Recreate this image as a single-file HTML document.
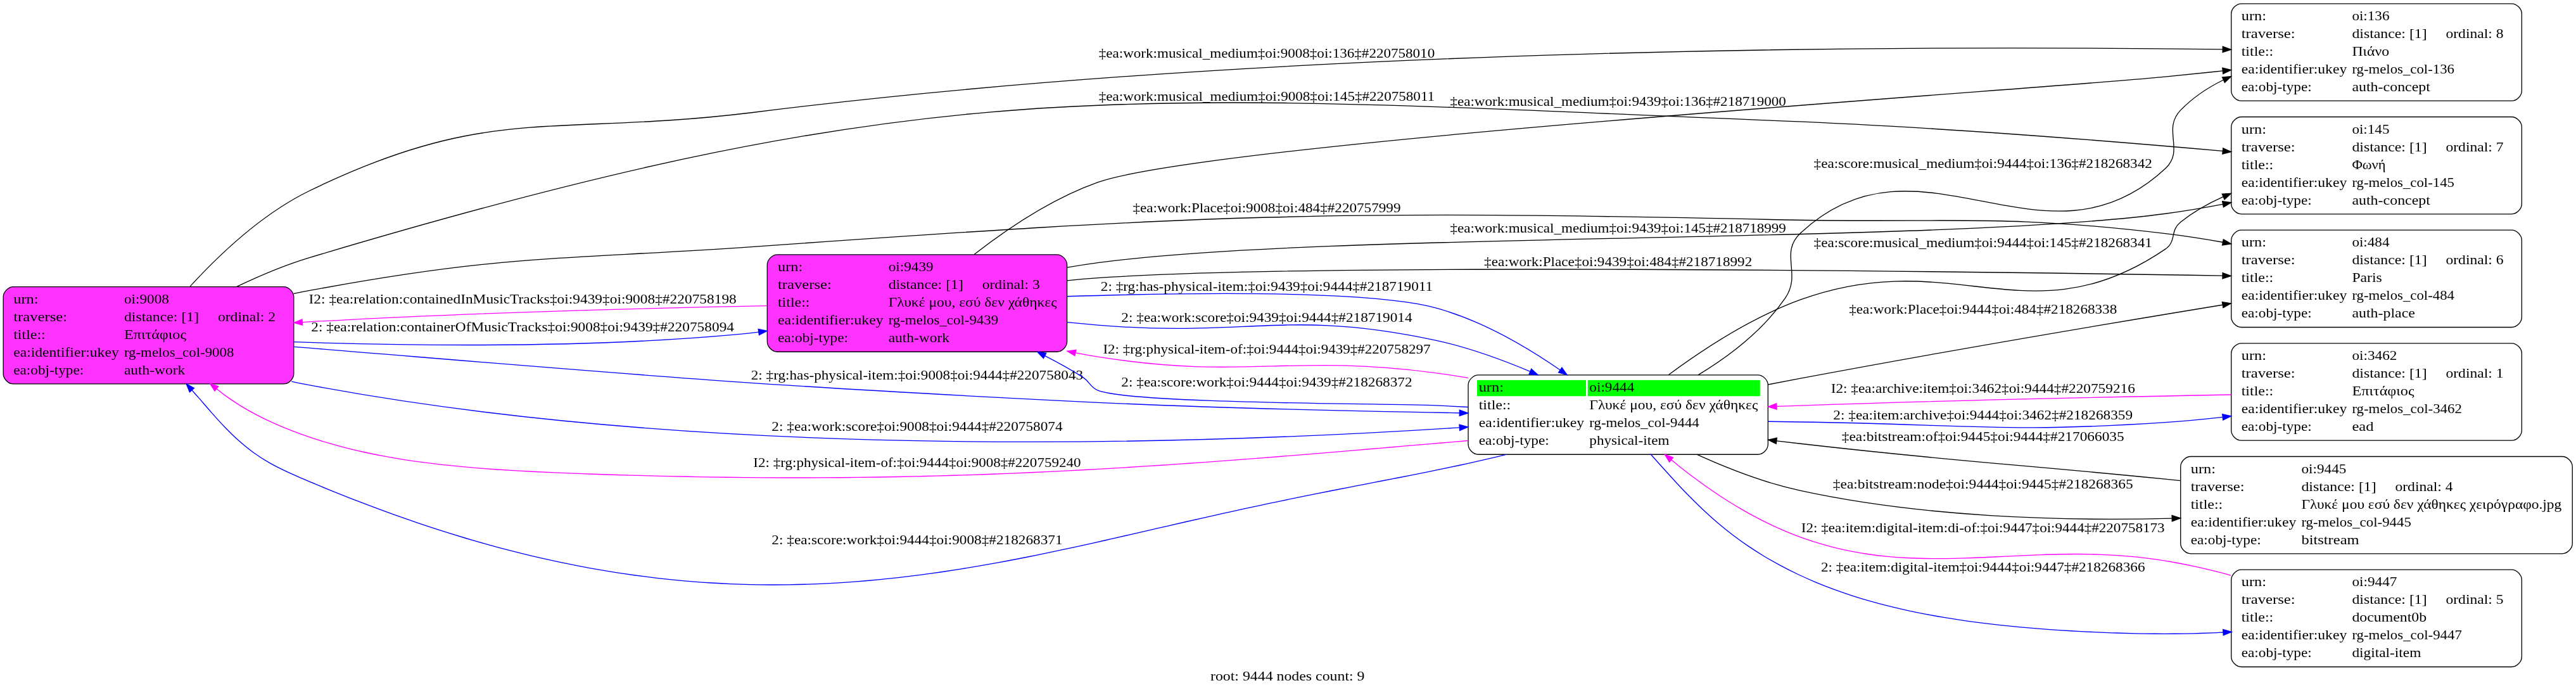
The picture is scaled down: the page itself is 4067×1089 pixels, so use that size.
<!DOCTYPE html>
<html><head><meta charset="utf-8"><title>graph</title>
<style>html,body{margin:0;padding:0;background:#fff;} svg{display:block;will-change:transform;} text{font-family:"Liberation Serif",serif;}</style>
</head><body>
<svg width="4067" height="1089" viewBox="0 0 4067 1089">
<rect x="0" y="0" width="4067" height="1089" fill="#ffffff"/>
<g font-family="Liberation Serif, serif" font-size="20.9" fill="#000">
<path fill="#ff33ff" stroke="#000" stroke-width="1.33" d="M447.86,452.60C447.86,452.60 21.14,452.60 21.14,452.60 13.18,452.60 5.23,460.60 5.23,468.60 5.23,468.60 5.23,589.93 5.23,589.93 5.23,597.93 13.18,605.93 21.14,605.93 21.14,605.93 447.86,605.93 447.86,605.93 455.82,605.93 463.77,597.93 463.77,589.93 463.77,589.93 463.77,468.60 463.77,468.60 463.77,460.60 455.82,452.60 447.86,452.60"/>
<text x="21.23" y="478.87" textLength="39.25" lengthAdjust="spacingAndGlyphs">urn:</text>
<text x="195.90" y="478.87" textLength="70.97" lengthAdjust="spacingAndGlyphs">oi:9008</text>
<text x="21.23" y="506.87" textLength="84.94" lengthAdjust="spacingAndGlyphs">traverse:</text>
<text x="195.90" y="506.87" textLength="118.27" lengthAdjust="spacingAndGlyphs">distance: [1]</text>
<text x="343.90" y="506.87" textLength="91.25" lengthAdjust="spacingAndGlyphs">ordinal: 2</text>
<text x="21.23" y="534.87" textLength="50.55" lengthAdjust="spacingAndGlyphs">title::</text>
<text x="195.90" y="534.87" textLength="98.19" lengthAdjust="spacingAndGlyphs">Επιτάφιος</text>
<text x="21.23" y="562.87" textLength="166.47" lengthAdjust="spacingAndGlyphs">ea:identifier:ukey</text>
<text x="195.90" y="562.87" textLength="173.44" lengthAdjust="spacingAndGlyphs">rg-melos_col-9008</text>
<text x="21.23" y="590.87" textLength="111.03" lengthAdjust="spacingAndGlyphs">ea:obj-type:</text>
<text x="195.90" y="590.87" textLength="96.39" lengthAdjust="spacingAndGlyphs">auth-work</text>
<path fill="none" stroke="#000" stroke-width="1.33" d="M3965.46,5.83C3965.46,5.83 3538.64,5.83 3538.64,5.83 3530.69,5.83 3522.73,13.83 3522.73,21.83 3522.73,21.83 3522.73,143.17 3522.73,143.17 3522.73,151.17 3530.69,159.17 3538.64,159.17 3538.64,159.17 3965.46,159.17 3965.46,159.17 3973.41,159.17 3981.37,151.17 3981.37,143.17 3981.37,143.17 3981.37,21.83 3981.37,21.83 3981.37,13.83 3973.41,5.83 3965.46,5.83"/>
<text x="3538.73" y="32.10" textLength="39.25" lengthAdjust="spacingAndGlyphs">urn:</text>
<text x="3713.40" y="32.10" textLength="59.09" lengthAdjust="spacingAndGlyphs">oi:136</text>
<text x="3538.73" y="60.10" textLength="84.94" lengthAdjust="spacingAndGlyphs">traverse:</text>
<text x="3713.40" y="60.10" textLength="118.27" lengthAdjust="spacingAndGlyphs">distance: [1]</text>
<text x="3861.40" y="60.10" textLength="91.25" lengthAdjust="spacingAndGlyphs">ordinal: 8</text>
<text x="3538.73" y="88.10" textLength="50.55" lengthAdjust="spacingAndGlyphs">title::</text>
<text x="3713.40" y="88.10" textLength="58.77" lengthAdjust="spacingAndGlyphs">Πιάνο</text>
<text x="3538.73" y="116.10" textLength="166.47" lengthAdjust="spacingAndGlyphs">ea:identifier:ukey</text>
<text x="3713.40" y="116.10" textLength="161.56" lengthAdjust="spacingAndGlyphs">rg-melos_col-136</text>
<text x="3538.73" y="144.10" textLength="111.03" lengthAdjust="spacingAndGlyphs">ea:obj-type:</text>
<text x="3713.40" y="144.10" textLength="123.59" lengthAdjust="spacingAndGlyphs">auth-concept</text>
<path fill="none" stroke="#000" stroke-width="1.33" d="M3965.46,184.50C3965.46,184.50 3538.64,184.50 3538.64,184.50 3530.69,184.50 3522.73,192.50 3522.73,200.50 3522.73,200.50 3522.73,321.83 3522.73,321.83 3522.73,329.83 3530.69,337.83 3538.64,337.83 3538.64,337.83 3965.46,337.83 3965.46,337.83 3973.41,337.83 3981.37,329.83 3981.37,321.83 3981.37,321.83 3981.37,200.50 3981.37,200.50 3981.37,192.50 3973.41,184.50 3965.46,184.50"/>
<text x="3538.73" y="210.77" textLength="39.25" lengthAdjust="spacingAndGlyphs">urn:</text>
<text x="3713.40" y="210.77" textLength="59.09" lengthAdjust="spacingAndGlyphs">oi:145</text>
<text x="3538.73" y="238.77" textLength="84.94" lengthAdjust="spacingAndGlyphs">traverse:</text>
<text x="3713.40" y="238.77" textLength="118.27" lengthAdjust="spacingAndGlyphs">distance: [1]</text>
<text x="3861.40" y="238.77" textLength="91.25" lengthAdjust="spacingAndGlyphs">ordinal: 7</text>
<text x="3538.73" y="266.77" textLength="50.55" lengthAdjust="spacingAndGlyphs">title::</text>
<text x="3713.40" y="266.77" textLength="53.03" lengthAdjust="spacingAndGlyphs">Φωνή</text>
<text x="3538.73" y="294.77" textLength="166.47" lengthAdjust="spacingAndGlyphs">ea:identifier:ukey</text>
<text x="3713.40" y="294.77" textLength="161.56" lengthAdjust="spacingAndGlyphs">rg-melos_col-145</text>
<text x="3538.73" y="322.77" textLength="111.03" lengthAdjust="spacingAndGlyphs">ea:obj-type:</text>
<text x="3713.40" y="322.77" textLength="123.59" lengthAdjust="spacingAndGlyphs">auth-concept</text>
<path fill="none" stroke="#000" stroke-width="1.33" d="M3965.46,363.17C3965.46,363.17 3538.64,363.17 3538.64,363.17 3530.69,363.17 3522.73,371.17 3522.73,379.17 3522.73,379.17 3522.73,500.50 3522.73,500.50 3522.73,508.50 3530.69,516.50 3538.64,516.50 3538.64,516.50 3965.46,516.50 3965.46,516.50 3973.41,516.50 3981.37,508.50 3981.37,500.50 3981.37,500.50 3981.37,379.17 3981.37,379.17 3981.37,371.17 3973.41,363.17 3965.46,363.17"/>
<text x="3538.73" y="389.43" textLength="39.25" lengthAdjust="spacingAndGlyphs">urn:</text>
<text x="3713.40" y="389.43" textLength="59.09" lengthAdjust="spacingAndGlyphs">oi:484</text>
<text x="3538.73" y="417.43" textLength="84.94" lengthAdjust="spacingAndGlyphs">traverse:</text>
<text x="3713.40" y="417.43" textLength="118.27" lengthAdjust="spacingAndGlyphs">distance: [1]</text>
<text x="3861.40" y="417.43" textLength="91.25" lengthAdjust="spacingAndGlyphs">ordinal: 6</text>
<text x="3538.73" y="445.43" textLength="50.55" lengthAdjust="spacingAndGlyphs">title::</text>
<text x="3713.40" y="445.43" textLength="47.30" lengthAdjust="spacingAndGlyphs">Paris</text>
<text x="3538.73" y="473.43" textLength="166.47" lengthAdjust="spacingAndGlyphs">ea:identifier:ukey</text>
<text x="3713.40" y="473.43" textLength="161.56" lengthAdjust="spacingAndGlyphs">rg-melos_col-484</text>
<text x="3538.73" y="501.43" textLength="111.03" lengthAdjust="spacingAndGlyphs">ea:obj-type:</text>
<text x="3713.40" y="501.43" textLength="99.48" lengthAdjust="spacingAndGlyphs">auth-place</text>
<path fill="#ff33ff" stroke="#000" stroke-width="1.33" d="M1668.66,401.90C1668.66,401.90 1227.22,401.90 1227.22,401.90 1219.27,401.90 1211.32,409.90 1211.32,417.90 1211.32,417.90 1211.32,539.23 1211.32,539.23 1211.32,547.23 1219.27,555.23 1227.22,555.23 1227.22,555.23 1668.66,555.23 1668.66,555.23 1676.61,555.23 1684.57,547.23 1684.57,539.23 1684.57,539.23 1684.57,417.90 1684.57,417.90 1684.57,409.90 1676.61,401.90 1668.66,401.90"/>
<text x="1227.98" y="428.17" textLength="39.25" lengthAdjust="spacingAndGlyphs">urn:</text>
<text x="1402.65" y="428.17" textLength="70.97" lengthAdjust="spacingAndGlyphs">oi:9439</text>
<text x="1227.98" y="456.17" textLength="84.94" lengthAdjust="spacingAndGlyphs">traverse:</text>
<text x="1402.65" y="456.17" textLength="118.27" lengthAdjust="spacingAndGlyphs">distance: [1]</text>
<text x="1550.65" y="456.17" textLength="91.25" lengthAdjust="spacingAndGlyphs">ordinal: 3</text>
<text x="1227.98" y="484.17" textLength="50.55" lengthAdjust="spacingAndGlyphs">title::</text>
<text x="1402.65" y="484.17" textLength="265.86" lengthAdjust="spacingAndGlyphs">Γλυκέ μου, εσύ δεν χάθηκες</text>
<text x="1227.98" y="512.17" textLength="166.47" lengthAdjust="spacingAndGlyphs">ea:identifier:ukey</text>
<text x="1402.65" y="512.17" textLength="173.44" lengthAdjust="spacingAndGlyphs">rg-melos_col-9439</text>
<text x="1227.98" y="540.17" textLength="111.03" lengthAdjust="spacingAndGlyphs">ea:obj-type:</text>
<text x="1402.65" y="540.17" textLength="96.39" lengthAdjust="spacingAndGlyphs">auth-work</text>
<path fill="none" stroke="#000" stroke-width="1.33" d="M2775.42,591.90C2775.42,591.90 2333.94,591.90 2333.94,591.90 2325.99,591.90 2318.03,599.90 2318.03,607.90 2318.03,607.90 2318.03,701.23 2318.03,701.23 2318.03,709.23 2325.99,717.23 2333.94,717.23 2333.94,717.23 2775.42,717.23 2775.42,717.23 2783.38,717.23 2791.33,709.23 2791.33,701.23 2791.33,701.23 2791.33,607.90 2791.33,607.90 2791.33,599.90 2783.38,591.90 2775.42,591.90"/>
<rect x="2332.03" y="599.90" width="172.00" height="25.33" fill="#00ff00"/>
<rect x="2506.70" y="599.90" width="272.04" height="25.33" fill="#00ff00"/>
<text x="2334.70" y="617.50" textLength="39.25" lengthAdjust="spacingAndGlyphs">urn:</text>
<text x="2509.37" y="617.50" textLength="70.97" lengthAdjust="spacingAndGlyphs">oi:9444</text>
<text x="2334.70" y="645.50" textLength="50.55" lengthAdjust="spacingAndGlyphs">title::</text>
<text x="2509.37" y="645.50" textLength="265.86" lengthAdjust="spacingAndGlyphs">Γλυκέ μου, εσύ δεν χάθηκες</text>
<text x="2334.70" y="673.50" textLength="166.47" lengthAdjust="spacingAndGlyphs">ea:identifier:ukey</text>
<text x="2509.37" y="673.50" textLength="173.44" lengthAdjust="spacingAndGlyphs">rg-melos_col-9444</text>
<text x="2334.70" y="701.50" textLength="111.03" lengthAdjust="spacingAndGlyphs">ea:obj-type:</text>
<text x="2509.37" y="701.50" textLength="126.08" lengthAdjust="spacingAndGlyphs">physical-item</text>
<path fill="none" stroke="#000" stroke-width="1.33" d="M3965.46,541.83C3965.46,541.83 3538.64,541.83 3538.64,541.83 3530.69,541.83 3522.73,549.83 3522.73,557.83 3522.73,557.83 3522.73,679.17 3522.73,679.17 3522.73,687.17 3530.69,695.17 3538.64,695.17 3538.64,695.17 3965.46,695.17 3965.46,695.17 3973.41,695.17 3981.37,687.17 3981.37,679.17 3981.37,679.17 3981.37,557.83 3981.37,557.83 3981.37,549.83 3973.41,541.83 3965.46,541.83"/>
<text x="3538.73" y="568.10" textLength="39.25" lengthAdjust="spacingAndGlyphs">urn:</text>
<text x="3713.40" y="568.10" textLength="70.97" lengthAdjust="spacingAndGlyphs">oi:3462</text>
<text x="3538.73" y="596.10" textLength="84.94" lengthAdjust="spacingAndGlyphs">traverse:</text>
<text x="3713.40" y="596.10" textLength="118.27" lengthAdjust="spacingAndGlyphs">distance: [1]</text>
<text x="3861.40" y="596.10" textLength="91.25" lengthAdjust="spacingAndGlyphs">ordinal: 1</text>
<text x="3538.73" y="624.10" textLength="50.55" lengthAdjust="spacingAndGlyphs">title::</text>
<text x="3713.40" y="624.10" textLength="98.19" lengthAdjust="spacingAndGlyphs">Επιτάφιος</text>
<text x="3538.73" y="652.10" textLength="166.47" lengthAdjust="spacingAndGlyphs">ea:identifier:ukey</text>
<text x="3713.40" y="652.10" textLength="173.44" lengthAdjust="spacingAndGlyphs">rg-melos_col-3462</text>
<text x="3538.73" y="680.10" textLength="111.03" lengthAdjust="spacingAndGlyphs">ea:obj-type:</text>
<text x="3713.40" y="680.10" textLength="34.11" lengthAdjust="spacingAndGlyphs">ead</text>
<path fill="none" stroke="#000" stroke-width="1.33" d="M4045.34,720.50C4045.34,720.50 3458.66,720.50 3458.66,720.50 3450.70,720.50 3442.73,728.50 3442.73,736.50 3442.73,736.50 3442.73,857.83 3442.73,857.83 3442.73,865.83 3450.70,873.83 3458.66,873.83 3458.66,873.83 4045.34,873.83 4045.34,873.83 4053.30,873.83 4061.27,865.83 4061.27,857.83 4061.27,857.83 4061.27,736.50 4061.27,736.50 4061.27,728.50 4053.30,720.50 4045.34,720.50"/>
<text x="3458.73" y="746.77" textLength="39.25" lengthAdjust="spacingAndGlyphs">urn:</text>
<text x="3633.40" y="746.77" textLength="70.97" lengthAdjust="spacingAndGlyphs">oi:9445</text>
<text x="3458.73" y="774.77" textLength="84.94" lengthAdjust="spacingAndGlyphs">traverse:</text>
<text x="3633.40" y="774.77" textLength="118.27" lengthAdjust="spacingAndGlyphs">distance: [1]</text>
<text x="3781.40" y="774.77" textLength="91.25" lengthAdjust="spacingAndGlyphs">ordinal: 4</text>
<text x="3458.73" y="802.77" textLength="50.55" lengthAdjust="spacingAndGlyphs">title::</text>
<text x="3633.40" y="802.77" textLength="410.95" lengthAdjust="spacingAndGlyphs">Γλυκέ μου εσύ δεν χάθηκες χειρόγραφο.jpg</text>
<text x="3458.73" y="830.77" textLength="166.47" lengthAdjust="spacingAndGlyphs">ea:identifier:ukey</text>
<text x="3633.40" y="830.77" textLength="173.44" lengthAdjust="spacingAndGlyphs">rg-melos_col-9445</text>
<text x="3458.73" y="858.77" textLength="111.03" lengthAdjust="spacingAndGlyphs">ea:obj-type:</text>
<text x="3633.40" y="858.77" textLength="91.25" lengthAdjust="spacingAndGlyphs">bitstream</text>
<path fill="none" stroke="#000" stroke-width="1.33" d="M3965.46,899.17C3965.46,899.17 3538.64,899.17 3538.64,899.17 3530.69,899.17 3522.73,907.17 3522.73,915.17 3522.73,915.17 3522.73,1036.50 3522.73,1036.50 3522.73,1044.50 3530.69,1052.50 3538.64,1052.50 3538.64,1052.50 3965.46,1052.50 3965.46,1052.50 3973.41,1052.50 3981.37,1044.50 3981.37,1036.50 3981.37,1036.50 3981.37,915.17 3981.37,915.17 3981.37,907.17 3973.41,899.17 3965.46,899.17"/>
<text x="3538.73" y="925.43" textLength="39.25" lengthAdjust="spacingAndGlyphs">urn:</text>
<text x="3713.40" y="925.43" textLength="70.97" lengthAdjust="spacingAndGlyphs">oi:9447</text>
<text x="3538.73" y="953.43" textLength="84.94" lengthAdjust="spacingAndGlyphs">traverse:</text>
<text x="3713.40" y="953.43" textLength="118.27" lengthAdjust="spacingAndGlyphs">distance: [1]</text>
<text x="3861.40" y="953.43" textLength="91.25" lengthAdjust="spacingAndGlyphs">ordinal: 5</text>
<text x="3538.73" y="981.43" textLength="50.55" lengthAdjust="spacingAndGlyphs">title::</text>
<text x="3713.40" y="981.43" textLength="117.70" lengthAdjust="spacingAndGlyphs">document0b</text>
<text x="3538.73" y="1009.43" textLength="166.47" lengthAdjust="spacingAndGlyphs">ea:identifier:ukey</text>
<text x="3713.40" y="1009.43" textLength="173.44" lengthAdjust="spacingAndGlyphs">rg-melos_col-9447</text>
<text x="3538.73" y="1037.43" textLength="111.03" lengthAdjust="spacingAndGlyphs">ea:obj-type:</text>
<text x="3713.40" y="1037.43" textLength="108.91" lengthAdjust="spacingAndGlyphs">digital-item</text>
<path fill="none" stroke="#000" stroke-width="1.33" d="M300.06,452.08C346.80,401.21 414.49,337.53 487.82,301.52 771.18,163.11 873.55,216.03 1186.60,177.74 2033.86,70.80 3051.32,72.12 3509.20,77.95"/>
<polygon fill="#000" stroke="#000" stroke-width="1.33" points="3509.32,73.29 3522.56,78.13 3509.15,82.62 3509.32,73.29"/>
<text x="1999.96" y="90.80" text-anchor="middle" textLength="530.45" lengthAdjust="spacingAndGlyphs">‡ea:work:musical_medium‡oi:9008‡oi:136‡#220758010</text>
<path fill="none" stroke="#000" stroke-width="1.33" d="M373.86,452.47C409.99,435.14 449.52,418.45 487.82,406.88 1483.68,108.28 1778.74,149.11 2818.73,191.09 3053.67,200.39 3321.05,221.73 3509.19,238.42"/>
<polygon fill="#000" stroke="#000" stroke-width="1.33" points="3509.76,233.79 3522.57,239.62 3508.85,243.08 3509.76,233.79"/>
<text x="1999.96" y="158.80" text-anchor="middle" textLength="530.45" lengthAdjust="spacingAndGlyphs">‡ea:work:musical_medium‡oi:9008‡oi:145‡#220758011</text>
<path fill="none" stroke="#000" stroke-width="1.33" d="M463.93,463.40C471.97,461.71 479.95,460.12 487.82,458.66 794.56,401.66 875.21,410.86 1186.60,389.59 1909.88,338.24 2093.74,330.97 2818.73,347.03 3085.54,352.45 3153.95,337.33 3418.68,368.62 3448.15,372.10 3478.81,376.87 3509.12,382.27"/>
<polygon fill="#000" stroke="#000" stroke-width="1.33" points="3510.32,377.75 3522.55,384.83 3508.57,386.93 3510.32,377.75"/>
<text x="1999.96" y="334.80" text-anchor="middle" textLength="423.12" lengthAdjust="spacingAndGlyphs">‡ea:work:Place‡oi:9008‡oi:484‡#220757999</text>
<path fill="none" stroke="#0000ff" stroke-width="1.33" d="M463.99,539.69C652.28,545.92 925.27,549.55 1162.55,527.89 1174.07,526.84 1185.82,525.55 1197.66,524.05"/>
<polygon fill="#0000ff" stroke="#0000ff" stroke-width="1.33" points="1197.19,519.40 1211.06,522.29 1198.46,528.66 1197.19,519.40"/>
<text x="825.18" y="523.00" text-anchor="middle" textLength="667.66" lengthAdjust="spacingAndGlyphs">2: ‡ea:relation:containerOfMusicTracks‡oi:9008‡oi:9439‡#220758094</text>
<path fill="none" stroke="#0000ff" stroke-width="1.33" d="M463.97,547.33C472.01,547.99 479.99,548.61 487.82,549.20 1042.37,594.51 1181.15,608.16 1733.45,635.31 1924.75,644.11 2141.28,649.03 2304.11,651.74"/>
<polygon fill="#0000ff" stroke="#0000ff" stroke-width="1.33" points="2304.40,647.07 2317.71,651.95 2304.25,656.41 2304.40,647.07"/>
<text x="1447.94" y="599.00" text-anchor="middle" textLength="524.31" lengthAdjust="spacingAndGlyphs">2: ‡rg:has-physical-item:‡oi:9008‡oi:9444‡#220758043</text>
<path fill="none" stroke="#0000ff" stroke-width="1.33" d="M460.24,602.07C469.49,604.15 478.72,606.02 487.82,607.67 1133.36,729.30 1910.46,700.28 2303.84,674.82"/>
<polygon fill="#0000ff" stroke="#0000ff" stroke-width="1.33" points="2303.97,670.15 2317.67,673.93 2304.64,679.46 2303.97,670.15"/>
<text x="1447.94" y="680.00" text-anchor="middle" textLength="459.16" lengthAdjust="spacingAndGlyphs">2: ‡ea:work:score‡oi:9008‡oi:9444‡#220758074</text>
<path fill="none" stroke="#ff00ff" stroke-width="1.33" d="M3522.51,623.02C3338.68,626.40 3074.13,632.05 2842.78,640.05 2830.40,640.48 2817.74,640.95 2804.95,641.45"/>
<polygon fill="#ff00ff" stroke="#ff00ff" stroke-width="1.33" points="2805.12,646.11 2791.57,642.03 2804.72,636.79 2805.12,646.11"/>
<text x="3130.73" y="619.60" text-anchor="middle" textLength="480.14" lengthAdjust="spacingAndGlyphs">I2: ‡ea:archive:item‡oi:3462‡oi:9444‡#220759216</text>
<path fill="none" stroke="#000" stroke-width="1.33" d="M3442.47,758.59C3434.46,757.78 3426.53,756.98 3418.68,756.20 3162.97,730.66 3098.41,729.54 2842.78,700.22 2830.39,698.79 2817.72,697.31 2804.92,695.80"/>
<polygon fill="#000" stroke="#000" stroke-width="1.33" points="2804.23,700.41 2791.55,694.19 2805.38,691.14 2804.23,700.41"/>
<text x="3130.73" y="696.20" text-anchor="middle" textLength="445.83" lengthAdjust="spacingAndGlyphs">‡ea:bitstream:of‡oi:9445‡oi:9444‡#217066035</text>
<path fill="none" stroke="#ff00ff" stroke-width="1.33" d="M1210.96,482.71C1016.45,486.44 734.15,493.89 487.82,507.94 484.38,508.14 480.94,508.34 477.46,508.55"/>
<polygon fill="#ff00ff" stroke="#ff00ff" stroke-width="1.33" points="477.60,513.21 463.95,509.41 476.99,503.91 477.60,513.21"/>
<text x="825.18" y="478.80" text-anchor="middle" textLength="675.23" lengthAdjust="spacingAndGlyphs">I2: ‡ea:relation:containedInMusicTracks‡oi:9439‡oi:9008‡#220758198</text>
<path fill="none" stroke="#000" stroke-width="1.33" d="M1538.12,401.51C1591.10,360.40 1661.75,313.08 1733.45,287.68 1911.14,224.93 3231.21,140.15 3418.68,121.14 3447.97,118.17 3478.67,115.02 3509.08,111.88"/>
<polygon fill="#000" stroke="#000" stroke-width="1.33" points="3508.81,107.22 3522.56,110.50 3509.77,116.51 3508.81,107.22"/>
<text x="2554.68" y="166.50" text-anchor="middle" textLength="530.45" lengthAdjust="spacingAndGlyphs">‡ea:work:musical_medium‡oi:9439‡oi:136‡#218719000</text>
<path fill="none" stroke="#000" stroke-width="1.33" d="M1684.77,422.14C1701.19,419.27 1717.53,416.71 1733.45,414.60 2106.39,364.95 3046.58,386.18 3418.68,337.22 3448.17,333.36 3478.85,328.20 3509.16,322.39"/>
<polygon fill="#000" stroke="#000" stroke-width="1.33" points="3508.60,317.73 3522.59,319.76 3510.41,326.90 3508.60,317.73"/>
<text x="2554.68" y="367.00" text-anchor="middle" textLength="530.45" lengthAdjust="spacingAndGlyphs">‡ea:work:musical_medium‡oi:9439‡oi:145‡#218718999</text>
<path fill="none" stroke="#000" stroke-width="1.33" d="M1684.69,442.81C1701.16,441.12 1717.54,439.69 1733.45,438.60 2072.59,415.13 3049.27,427.53 3508.95,435.19"/>
<polygon fill="#000" stroke="#000" stroke-width="1.33" points="3509.12,430.53 3522.36,435.43 3508.95,439.86 3509.12,430.53"/>
<text x="2554.68" y="420.40" text-anchor="middle" textLength="423.12" lengthAdjust="spacingAndGlyphs">‡ea:work:Place‡oi:9439‡oi:484‡#218718992</text>
<path fill="none" stroke="#0000ff" stroke-width="1.33" d="M1684.74,467.77C1887.13,461.51 2161.22,457.59 2266.47,485.89 2338.05,505.20 2409.47,546.99 2463.22,584.02"/>
<polygon fill="#0000ff" stroke="#0000ff" stroke-width="1.33" points="2465.91,580.22 2474.06,591.71 2460.55,587.87 2465.91,580.22"/>
<text x="1999.96" y="458.70" text-anchor="middle" textLength="524.31" lengthAdjust="spacingAndGlyphs">2: ‡rg:has-physical-item:‡oi:9439‡oi:9444‡#218719011</text>
<path fill="none" stroke="#0000ff" stroke-width="1.33" d="M1684.82,508.65C1701.27,510.29 1717.59,511.80 1733.45,513.12 1969.77,532.77 2035.02,487.25 2266.47,537.08 2317.07,547.98 2369.65,566.93 2415.86,586.42"/>
<polygon fill="#0000ff" stroke="#0000ff" stroke-width="1.33" points="2417.77,582.17 2428.09,591.75 2414.07,590.75 2417.77,582.17"/>
<text x="1999.96" y="508.30" text-anchor="middle" textLength="459.16" lengthAdjust="spacingAndGlyphs">2: ‡ea:work:score‡oi:9439‡oi:9444‡#218719014</text>
<path fill="none" stroke="#ff00ff" stroke-width="1.33" d="M3522.10,908.02C3517.21,906.76 3502.58,902.86 3492.78,900.47 3482.97,898.07 3473.14,895.78 3463.27,893.66 3453.40,891.54 3443.50,889.56 3433.57,887.77 3423.64,885.98 3413.67,884.35 3403.68,882.92 3393.69,881.49 3383.67,880.24 3373.63,879.18 3363.59,878.12 3353.53,877.26 3343.46,876.57 3333.39,875.89 3323.31,875.40 3313.22,875.05 3303.13,874.71 3293.04,874.56 3282.94,874.51 3272.85,874.46 3262.75,874.58 3252.66,874.77 3242.57,874.95 3232.48,875.27 3222.39,875.63 3212.31,875.98 3202.22,876.43 3192.14,876.88 3182.05,877.33 3171.97,877.85 3161.89,878.32 3151.81,878.80 3141.72,879.30 3131.64,879.73 3121.55,880.15 3111.47,880.57 3101.38,880.88 3091.29,881.18 3081.20,881.44 3071.11,881.54 3061.01,881.65 3050.92,881.67 3040.82,881.50 3030.73,881.32 3020.64,881.03 3010.56,880.50 3000.48,879.97 2990.40,879.28 2980.36,878.32 2970.31,877.36 2960.28,876.20 2950.29,874.74 2940.31,873.29 2930.34,871.60 2920.45,869.62 2910.56,867.63 2900.70,865.38 2890.94,862.84 2881.18,860.30 2871.47,857.48 2861.87,854.38 2852.27,851.28 2842.74,847.90 2833.33,844.27 2823.92,840.63 2814.60,836.71 2805.40,832.57 2796.20,828.43 2787.11,824.02 2778.13,819.41 2769.16,814.80 2760.30,809.94 2751.55,804.91 2742.80,799.88 2734.17,794.63 2725.65,789.23 2717.13,783.82 2708.72,778.22 2700.41,772.49 2692.11,766.76 2683.91,760.86 2675.81,754.84 2667.70,748.83 2657.98,741.26 2651.79,736.41 2645.59,731.55 2640.83,727.49 2638.64,725.71"/>
<polygon fill="#ff00ff" stroke="#ff00ff" stroke-width="1.33" points="2641.59,722.09 2628.30,717.29 2635.69,729.33 2641.59,722.09"/>
<text x="3130.73" y="840.10" text-anchor="middle" textLength="573.92" lengthAdjust="spacingAndGlyphs">I2: ‡ea:item:digital-item:di-of:‡oi:9447‡oi:9444‡#220758173</text>
<path fill="none" stroke="#ff00ff" stroke-width="1.33" d="M2317.60,695.51C2312.60,695.93 2297.61,697.20 2287.62,698.04 2277.62,698.89 2267.63,699.74 2257.63,700.60 2247.64,701.45 2237.64,702.30 2227.65,703.16 2217.66,704.01 2207.66,704.87 2197.67,705.72 2187.67,706.58 2177.68,707.43 2167.68,708.28 2157.69,709.13 2147.70,709.98 2137.70,710.83 2127.71,711.67 2117.71,712.51 2107.72,713.35 2097.72,714.19 2087.72,715.02 2077.73,715.84 2067.73,716.67 2057.73,717.49 2047.74,718.30 2037.74,719.11 2027.74,719.92 2017.74,720.72 2007.74,721.51 1997.74,722.30 1987.74,723.08 1977.74,723.86 1967.74,724.63 1957.74,725.39 1947.74,726.15 1937.74,726.91 1927.73,727.65 1917.73,728.38 1907.73,729.11 1897.72,729.83 1887.72,730.55 1877.71,731.25 1867.70,731.94 1857.70,732.63 1847.69,733.31 1837.68,733.98 1827.67,734.65 1817.66,735.30 1807.65,735.94 1797.64,736.57 1787.63,737.20 1777.62,737.81 1767.61,738.42 1757.59,739.01 1747.58,739.59 1737.57,740.17 1727.55,740.73 1717.54,741.28 1707.52,741.83 1697.50,742.36 1687.49,742.87 1677.47,743.39 1667.45,743.89 1657.43,744.37 1647.41,744.85 1637.39,745.31 1627.37,745.76 1617.35,746.21 1607.33,746.64 1597.31,747.05 1587.29,747.46 1577.26,747.86 1567.24,748.23 1557.22,748.61 1547.19,748.97 1537.17,749.31 1527.14,749.65 1517.12,749.97 1507.09,750.27 1497.07,750.58 1487.04,750.86 1477.01,751.13 1466.98,751.40 1456.96,751.64 1446.93,751.87 1436.90,752.10 1426.87,752.31 1416.84,752.51 1406.82,752.70 1396.79,752.87 1386.76,753.03 1376.73,753.18 1366.70,753.32 1356.67,753.44 1346.64,753.55 1336.61,753.65 1326.58,753.73 1316.55,753.81 1306.52,753.87 1296.49,753.92 1286.46,753.96 1276.43,753.99 1266.40,754.00 1256.36,754.00 1246.33,753.99 1236.30,753.97 1226.27,753.94 1216.24,753.89 1206.21,753.83 1196.18,753.77 1186.15,753.68 1176.12,753.59 1166.09,753.49 1156.06,753.37 1146.03,753.24 1136.00,753.11 1125.97,752.97 1115.94,752.80 1105.91,752.64 1095.89,752.46 1085.86,752.26 1075.83,752.07 1065.80,751.86 1055.77,751.63 1045.74,751.41 1035.72,751.17 1025.69,750.91 1015.66,750.66 1005.63,750.39 995.61,750.11 985.58,749.83 975.55,749.53 965.53,749.22 955.50,748.91 945.48,748.58 935.45,748.24 925.43,747.89 915.40,747.53 905.38,747.14 895.36,746.76 885.34,746.35 875.32,745.92 865.29,745.48 855.27,745.02 845.26,744.51 835.24,744.01 825.22,743.48 815.21,742.90 805.19,742.31 795.18,741.69 785.18,741.01 775.17,740.32 765.16,739.60 755.17,738.79 745.17,737.98 735.17,737.12 725.19,736.16 715.21,735.21 705.23,734.18 695.26,733.05 685.29,731.92 675.33,730.71 665.39,729.38 655.45,728.04 645.52,726.61 635.62,725.04 625.71,723.47 615.82,721.79 605.96,719.95 596.10,718.11 586.26,716.15 576.46,714.01 566.66,711.88 556.89,709.60 547.17,707.13 537.45,704.66 527.76,702.04 518.14,699.21 508.52,696.39 498.94,693.39 489.44,690.19 479.93,686.98 470.48,683.60 461.13,679.97 451.78,676.34 442.49,672.53 433.34,668.43 424.20,664.33 415.13,660.01 406.24,655.37 397.36,650.72 388.59,645.81 380.05,640.56 371.52,635.31 361.39,628.37 355.03,623.86 348.67,619.35 344.06,615.22 341.87,613.49"/>
<polygon fill="#ff00ff" stroke="#ff00ff" stroke-width="1.33" points="344.76,609.82 331.40,605.24 338.98,617.16 344.76,609.82"/>
<text x="1447.94" y="736.60" text-anchor="middle" textLength="517.11" lengthAdjust="spacingAndGlyphs">I2: ‡rg:physical-item-of:‡oi:9444‡oi:9008‡#220759240</text>
<path fill="none" stroke="#0000ff" stroke-width="1.33" d="M2377.00,717.60C2372.09,718.78 2357.36,722.38 2347.51,724.68 2337.66,726.97 2327.80,729.19 2317.93,731.36 2308.05,733.53 2298.17,735.64 2288.27,737.72 2278.38,739.80 2268.47,741.83 2258.57,743.84 2248.66,745.85 2238.74,747.82 2228.83,749.78 2218.91,751.75 2208.99,753.68 2199.07,755.62 2189.14,757.56 2179.22,759.48 2169.29,761.41 2159.37,763.33 2149.44,765.26 2139.52,767.19 2129.60,769.13 2119.68,771.06 2109.76,773.02 2099.84,774.97 2089.92,776.93 2080.01,778.92 2070.10,780.90 2060.19,782.90 2050.28,784.92 2040.37,786.94 2030.47,788.98 2020.58,791.04 2010.68,793.10 2000.79,795.19 1990.90,797.29 1981.01,799.40 1971.13,801.53 1961.25,803.67 1951.37,805.82 1941.50,807.99 1931.63,810.18 1921.76,812.37 1911.89,814.58 1902.03,816.80 1892.17,819.03 1882.31,821.27 1872.45,823.52 1862.60,825.77 1852.75,828.04 1842.89,830.30 1833.04,832.57 1823.19,834.85 1813.34,837.12 1803.49,839.39 1793.64,841.66 1783.78,843.92 1773.93,846.18 1764.08,848.44 1754.22,850.67 1744.36,852.91 1734.49,855.13 1724.63,857.33 1714.76,859.52 1704.89,861.71 1695.01,863.85 1685.13,866.00 1675.24,868.12 1665.35,870.20 1655.46,872.29 1645.56,874.34 1635.65,876.35 1625.74,878.35 1615.83,880.33 1605.90,882.24 1595.98,884.16 1586.04,886.04 1576.10,887.86 1566.15,889.68 1556.20,891.46 1546.24,893.17 1536.27,894.88 1526.30,896.54 1516.32,898.13 1506.33,899.72 1496.34,901.26 1486.34,902.72 1476.34,904.18 1466.32,905.58 1456.30,906.90 1446.28,908.23 1436.25,909.48 1426.20,910.66 1416.16,911.83 1406.11,912.93 1396.06,913.95 1386.00,914.97 1375.93,915.91 1365.86,916.77 1355.79,917.62 1345.70,918.40 1335.62,919.08 1325.53,919.77 1315.44,920.37 1305.34,920.88 1295.25,921.38 1285.14,921.81 1275.04,922.13 1264.94,922.46 1254.83,922.70 1244.72,922.84 1234.61,922.98 1224.50,923.03 1214.39,922.98 1204.28,922.94 1194.17,922.80 1184.07,922.56 1173.96,922.32 1163.86,921.99 1153.76,921.56 1143.66,921.13 1133.56,920.61 1123.47,919.99 1113.38,919.37 1103.29,918.65 1093.22,917.83 1083.14,917.02 1073.07,916.11 1063.01,915.11 1052.95,914.11 1042.90,913.01 1032.86,911.82 1022.82,910.63 1012.79,909.34 1002.78,907.97 992.76,906.59 982.76,905.12 972.77,903.56 962.78,902.00 952.81,900.35 942.85,898.61 932.89,896.87 922.95,895.04 913.02,893.13 903.10,891.21 893.19,889.21 883.29,887.12 873.40,885.04 863.53,882.86 853.67,880.61 843.82,878.36 833.98,876.02 824.17,873.60 814.35,871.18 804.55,868.68 794.78,866.11 785.00,863.54 775.25,860.88 765.51,858.15 755.78,855.42 746.06,852.62 736.37,849.74 726.68,846.87 717.01,843.92 707.36,840.90 697.71,837.88 688.09,834.79 678.48,831.63 668.88,828.48 659.30,825.25 649.74,821.97 640.18,818.68 630.64,815.33 621.12,811.91 611.61,808.50 602.11,805.02 592.64,801.49 583.17,797.96 573.72,794.36 564.29,790.72 554.86,787.07 545.46,783.36 536.07,779.60 526.69,775.85 517.32,772.03 507.98,768.17 498.64,764.31 489.30,760.44 480.02,756.44 470.73,752.44 461.40,748.52 452.28,744.18 443.15,739.84 434.02,735.42 425.28,730.38 416.53,725.34 407.98,719.87 399.81,713.94 391.64,708.02 383.82,701.54 376.28,694.83 368.73,688.12 361.57,680.94 354.54,673.69 347.50,666.44 340.79,658.86 334.07,651.32 327.34,643.77 319.39,634.34 314.20,628.40 309.01,622.46 304.81,617.80 302.93,615.67"/>
<polygon fill="#0000ff" stroke="#0000ff" stroke-width="1.33" points="306.43,612.58 294.10,605.69 299.44,618.77 306.43,612.58"/>
<text x="1447.94" y="859.20" text-anchor="middle" textLength="459.16" lengthAdjust="spacingAndGlyphs">2: ‡ea:score:work‡oi:9444‡oi:9008‡#218268371</text>
<path fill="none" stroke="#0000ff" stroke-width="1.33" d="M2791.59,665.22C2808.90,665.52 2826.11,665.79 2842.78,666.01 3098.73,669.35 3163.28,683.79 3418.68,666.66 3448.04,664.69 3478.69,661.77 3509.04,658.36"/>
<polygon fill="#0000ff" stroke="#0000ff" stroke-width="1.33" points="3508.72,653.71 3522.49,656.82 3509.76,662.97 3508.72,653.71"/>
<text x="3130.73" y="661.70" text-anchor="middle" textLength="472.77" lengthAdjust="spacingAndGlyphs">2: ‡ea:item:archive‡oi:9444‡oi:3462‡#218268359</text>
<path fill="none" stroke="#000" stroke-width="1.33" d="M2679.35,717.37C2728.74,739.76 2786.98,762.32 2842.78,774.44 3034.38,816.03 3253.66,822.71 3428.94,818.09"/>
<polygon fill="#000" stroke="#000" stroke-width="1.33" points="3429.08,813.42 3442.56,817.74 3429.32,822.75 3429.08,813.42"/>
<text x="3130.73" y="770.80" text-anchor="middle" textLength="473.92" lengthAdjust="spacingAndGlyphs">‡ea:bitstream:node‡oi:9444‡oi:9445‡#218268365</text>
<path fill="none" stroke="#000" stroke-width="1.33" d="M2680.98,591.87C2730.69,561.75 2784.15,520.84 2818.73,470.04 2844.96,431.57 2808.74,399.50 2842.78,367.74 3031.30,191.82 3227.88,443.84 3418.68,266.07 3449.73,237.13 3413.18,204.38 3442.73,173.90 3461.92,154.07 3485.16,138.48 3510.19,126.23"/>
<polygon fill="#000" stroke="#000" stroke-width="1.33" points="3508.55,121.86 3522.61,120.48 3512.41,130.32 3508.55,121.86"/>
<text x="3130.73" y="264.90" text-anchor="middle" textLength="534.25" lengthAdjust="spacingAndGlyphs">‡ea:score:musical_medium‡oi:9444‡oi:136‡#218268342</text>
<path fill="none" stroke="#000" stroke-width="1.33" d="M2634.45,591.47C2689.43,550.92 2766.41,500.68 2842.78,472.92 3085.35,384.93 3205.25,538.55 3418.68,393.12 3436.68,380.85 3425.64,363.96 3442.73,350.46 3462.88,334.52 3485.77,321.42 3509.77,310.67"/>
<polygon fill="#000" stroke="#000" stroke-width="1.33" points="3508.32,306.22 3522.41,305.25 3512.00,314.79 3508.32,306.22"/>
<text x="3130.73" y="390.20" text-anchor="middle" textLength="534.25" lengthAdjust="spacingAndGlyphs">‡ea:score:musical_medium‡oi:9444‡oi:145‡#218268341</text>
<path fill="none" stroke="#000" stroke-width="1.33" d="M2791.51,606.98C2808.85,603.63 2826.07,600.32 2842.78,597.19 3068.11,554.80 3325.47,511.30 3508.71,481.22"/>
<polygon fill="#000" stroke="#000" stroke-width="1.33" points="3508.37,476.54 3522.31,478.87 3509.96,485.74 3508.37,476.54"/>
<text x="3130.73" y="495.40" text-anchor="middle" textLength="423.12" lengthAdjust="spacingAndGlyphs">‡ea:work:Place‡oi:9444‡oi:484‡#218268338</text>
<path fill="none" stroke="#ff00ff" stroke-width="1.33" d="M2317.98,596.46C2300.61,593.46 2283.31,590.78 2266.47,588.57 2031.59,557.78 1967.40,600.18 1733.45,563.15 1721.86,561.32 1710.09,559.19 1698.24,556.85"/>
<polygon fill="#ff00ff" stroke="#ff00ff" stroke-width="1.33" points="1696.93,561.36 1684.82,554.10 1698.91,552.22 1696.93,561.36"/>
<text x="1999.96" y="558.30" text-anchor="middle" textLength="517.11" lengthAdjust="spacingAndGlyphs">I2: ‡rg:physical-item-of:‡oi:9444‡oi:9439‡#220758297</text>
<path fill="none" stroke="#0000ff" stroke-width="1.33" d="M2317.78,642.49C2300.41,641.59 2283.17,640.71 2266.47,639.85 2207.25,636.81 1788.33,637.88 1733.45,616.20 1720.18,610.96 1721.38,602.76 1709.34,595.16 1690.50,583.26 1670.33,572.02 1649.85,561.57"/>
<polygon fill="#0000ff" stroke="#0000ff" stroke-width="1.33" points="1647.46,565.58 1637.76,555.37 1651.68,557.24 1647.46,565.58"/>
<text x="1999.96" y="609.60" text-anchor="middle" textLength="459.16" lengthAdjust="spacingAndGlyphs">2: ‡ea:score:work‡oi:9444‡oi:9439‡#218268372</text>
<path fill="none" stroke="#0000ff" stroke-width="1.33" d="M2606.00,716.69C2609.36,720.46 2619.39,731.81 2626.15,739.30 2632.90,746.80 2639.66,754.30 2646.55,761.69 2653.43,769.07 2660.37,776.41 2667.46,783.59 2674.55,790.77 2681.74,797.87 2689.11,804.76 2696.47,811.66 2703.97,818.43 2711.66,824.97 2719.35,831.50 2727.21,837.86 2735.23,843.98 2743.26,850.09 2751.46,856.00 2759.81,861.66 2768.16,867.33 2776.68,872.76 2785.32,877.97 2793.97,883.18 2802.77,888.15 2811.67,892.90 2820.57,897.66 2829.61,902.18 2838.73,906.49 2847.85,910.80 2857.09,914.89 2866.40,918.79 2875.71,922.68 2885.12,926.36 2894.58,929.86 2904.05,933.37 2913.60,936.66 2923.19,939.79 2932.79,942.92 2942.45,945.85 2952.16,948.63 2961.86,951.41 2971.62,954.00 2981.41,956.45 2991.20,958.91 3001.04,961.19 3010.90,963.35 3020.76,965.51 3030.66,967.51 3040.57,969.40 3050.49,971.29 3060.43,973.04 3070.39,974.69 3080.35,976.34 3090.33,977.86 3100.32,979.30 3110.31,980.74 3120.32,982.06 3130.34,983.31 3140.35,984.56 3150.38,985.71 3160.42,986.79 3170.46,987.87 3180.50,988.86 3190.55,989.79 3200.60,990.72 3210.66,991.58 3220.73,992.37 3230.79,993.17 3240.86,993.90 3250.93,994.57 3261.00,995.24 3271.08,995.85 3281.16,996.40 3291.24,996.95 3301.32,997.45 3311.41,997.89 3321.49,998.33 3331.58,998.71 3341.67,999.03 3351.76,999.36 3361.85,999.62 3371.94,999.83 3382.03,1000.03 3392.13,1000.17 3402.22,1000.24 3412.32,1000.31 3422.41,1000.33 3432.51,1000.25 3442.60,1000.18 3452.70,1000.04 3462.79,999.81 3472.88,999.57 3485.19,999.15 3493.06,998.84 3500.92,998.54 3507.17,998.12 3509.99,997.98"/>
<polygon fill="#0000ff" stroke="#0000ff" stroke-width="1.33" points="3510.23,1002.64 3523.30,997.30 3509.75,993.32 3510.23,1002.64"/>
<text x="3130.73" y="901.80" text-anchor="middle" textLength="511.62" lengthAdjust="spacingAndGlyphs">2: ‡ea:item:digital-item‡oi:9444‡oi:9447‡#218268366</text>
<text x="2032.74" y="1074.17" text-anchor="middle" textLength="243.55" lengthAdjust="spacingAndGlyphs">root: 9444 nodes count: 9</text>
</g></svg>
</body></html>
